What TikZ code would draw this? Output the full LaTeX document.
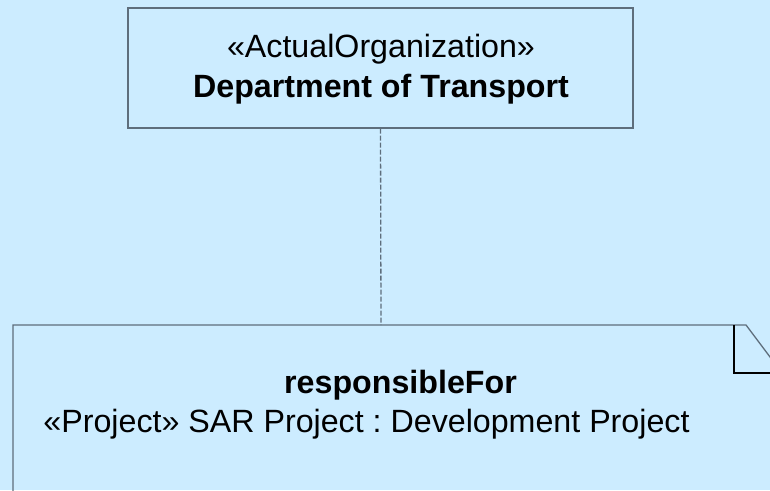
\documentclass[tikz,border=0pt]{standalone}
\usepackage{fontspec}
\setmainfont{Liberation Sans}
\frenchspacing
\definecolor{bg}{HTML}{CCECFF}
\definecolor{linegray}{HTML}{5E6E7C}
\begin{document}
\begin{tikzpicture}[x=1pt,y=-1pt,
    block/.style={draw=linegray,line width=1.3pt,minimum width=505pt,minimum height=120pt,inner sep=0pt},
    txt/.style={anchor=base,inner sep=0pt,font=\fontsize{32.2}{38}\selectfont}]
\useasboundingbox (0,0) rectangle (770,490);
\clip (0,0) rectangle (770,490);
\fill[bg] (0,0) rectangle (770,490);
% organisation
\node[block] (org) at (380.5,68) {};
\node[txt] (st) at (381,57) {«ActualOrganization»};
\node[txt,font=\fontsize{32.2}{38}\selectfont\bfseries] (nm) at (381,97) {Department of Transport};
% note
\draw[linegray,line width=1.3pt] (13,520) -- (13,325) -- (746,325) -- (800,397);
\draw[black,line width=1.1pt] (734,325) -- (734,373) -- (800,373);
\coordinate (top) at (381,325);
\node[txt,font=\fontsize{32.2}{38}\selectfont\bfseries] (rel) at (400.5,393) {responsibleFor};
\node[txt] (prj) at (366.5,432) {«Project» SAR Project : Development Project};
\draw[linegray,line width=1.3pt,dash pattern=on 5pt off 2pt] (org.south) -- (top);
\end{tikzpicture}
\end{document}
